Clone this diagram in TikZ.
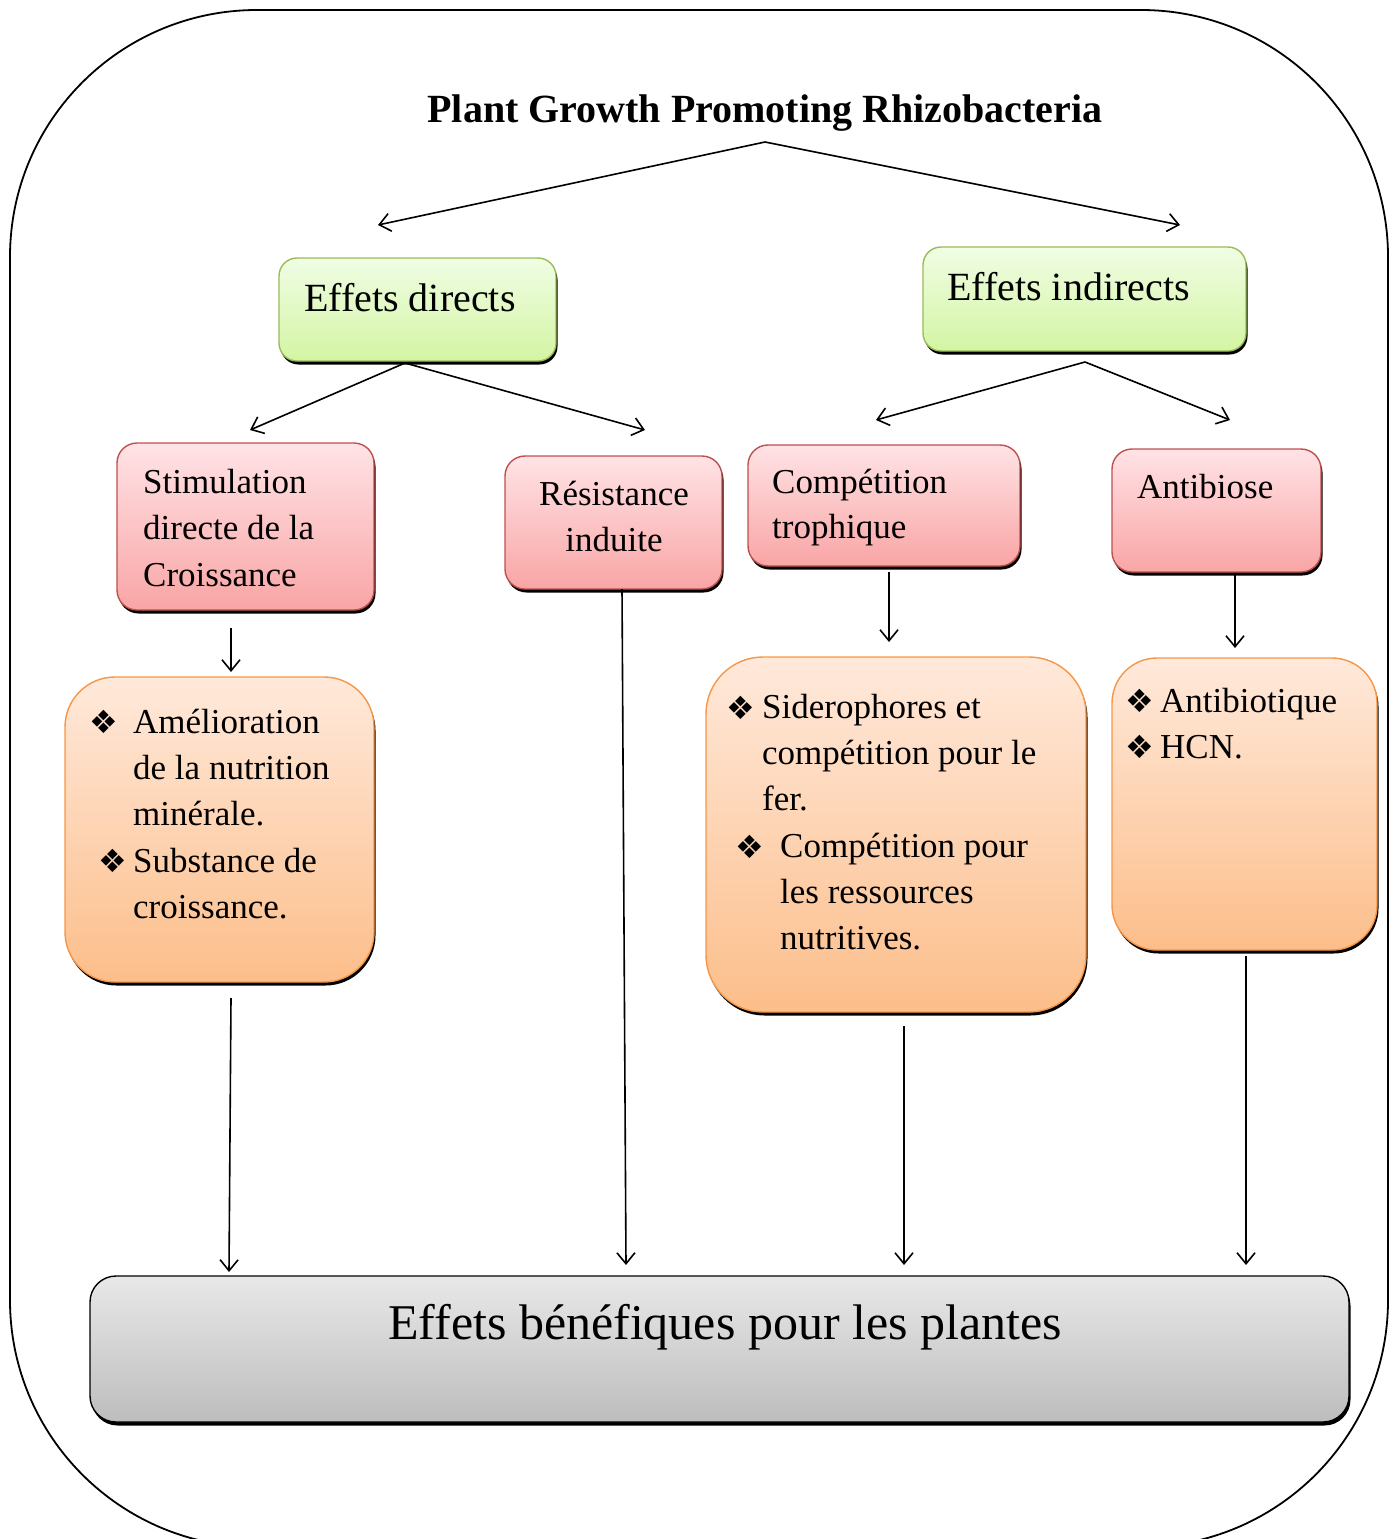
\documentclass[tikz,border=0pt]{standalone}
\usepackage{fontspec}
\setmainfont{Liberation Serif}
\newfontfamily\dejavu{DejaVu Sans}
\usetikzlibrary{arrows.meta}
\definecolor{gtop}{HTML}{F0FDE4}
\definecolor{gbot}{HTML}{D3F5A3}
\definecolor{gborder}{HTML}{9BBB59}
\definecolor{rtop}{HTML}{FFE3E6}
\definecolor{rbot}{HTML}{F9A5A5}
\definecolor{rborder}{HTML}{C0504D}
\definecolor{otop}{HTML}{FFE9DB}
\definecolor{obot}{HTML}{FCBE8A}
\definecolor{oborder}{HTML}{F79646}
\definecolor{ktop}{HTML}{E8E8E8}
\definecolor{kbot}{HTML}{BDBDBD}
\tikzset{
  shad/.style={preaction={fill=black, transform canvas={xshift=1.5pt,yshift=-3.5pt}}},
  boxbase/.style={shad, inner sep=0pt, outer sep=0pt, anchor=north west, line width=1.4pt},
  greenbox/.style={boxbase, draw=gborder, top color=gtop, bottom color=gbot, rounded corners=18pt},
  redbox/.style={boxbase, draw=rborder, top color=rtop, bottom color=rbot, rounded corners=20pt},
  orangebox/.style={boxbase, draw=oborder, top color=otop, bottom color=obot, rounded corners=50pt},
  graybox/.style={boxbase, draw=black, top color=ktop, bottom color=kbot, rounded corners=26pt},
  lbl/.style={inner sep=0pt, anchor=base west, font=\fontsize{35}{42}\selectfont},
  clbl/.style={inner sep=0pt, anchor=base, font=\fontsize{35}{42}\selectfont},
  bigl/.style={inner sep=0pt, anchor=base west, font=\fontsize{40}{48}\selectfont},
  bul/.style={inner sep=0pt, anchor=center, font=\dejavu\fontsize{32}{36}\selectfont},
  arr/.style={line width=1.6pt, -{Straight Barb[length=11pt,width=18pt,line width=1.6pt]}}
}
\begin{document}
\begin{tikzpicture}[x=1pt,y=-1pt]
\useasboundingbox (0,0) rectangle (1397,1539);
\begin{scope}
\clip (0,0) rectangle (1397,1539);
\draw[line width=1.8pt, rounded corners=247pt] (10,10) rectangle (1388,1547);
\end{scope}

% title
\node[inner sep=0pt, anchor=base, font=\bfseries\fontsize{40}{48}\selectfont] (title) at (765,122) {Plant Growth Promoting Rhizobacteria};

% boxes
\node[greenbox, minimum width=277pt, minimum height=103pt] (dir) at (279,258) {};
\node[greenbox, minimum width=323pt, minimum height=104pt] (ind) at (923,247) {};
\node[redbox, minimum width=257pt, minimum height=167pt] (stim) at (117,443) {};
\node[redbox, minimum width=217pt, minimum height=133pt] (res) at (505,456) {};
\node[redbox, minimum width=272pt, minimum height=121pt] (comp) at (748,445) {};
\node[redbox, minimum width=209pt, minimum height=123pt] (anti) at (1112,449) {};
\node[orangebox, minimum width=309pt, minimum height=305pt] (o1) at (65,677) {};
\node[orangebox, rounded corners=57pt, minimum width=380pt, minimum height=355pt] (o3) at (706,657) {};
\node[orangebox, rounded corners=45pt, minimum width=265pt, minimum height=292pt] (o4) at (1112,658) {};
\node[graybox, minimum width=1259pt, minimum height=146pt] (ben) at (90,1276) {};

% texts
\node[bigl] (tdir) at (304,311) {Effets directs};
\node[bigl] (tind) at (947,300) {Effets indirects};

\node[lbl] (s1) at (143,493) {Stimulation};
\node[lbl] (s2) at (143,539) {directe de la};
\node[lbl] (s3) at (143,586) {Croissance};

\node[clbl] (r1) at (614,505) {Résistance};
\node[clbl] (r2) at (614,551) {induite};

\node[lbl] (c1) at (772,493) {Compétition};
\node[lbl] (c2) at (772,538) {trophique};

\node[lbl] (a1) at (1137,498) {Antibiose};

\node[bul] (b11) at (104,722) {❖};
\node[lbl] (o11) at (133,733) {Amélioration};
\node[lbl] (o12) at (133,779) {de la nutrition};
\node[lbl] (o13) at (133,825) {minérale.};
\node[bul] (b12) at (113,861) {❖};
\node[lbl] (o14) at (133,872) {Substance de};
\node[lbl] (o15) at (133,918) {croissance.};

\node[bul] (b31) at (741,708) {❖};
\node[lbl] (o31) at (762,718) {Siderophores et};
\node[lbl] (o32) at (762,764) {compétition pour le};
\node[lbl] (o33) at (762,810) {fer.};
\node[bul] (b32) at (750,847) {❖};
\node[lbl] (o34) at (780,857) {Compétition pour};
\node[lbl] (o35) at (780,903) {les ressources};
\node[lbl] (o36) at (780,949) {nutritives.};

\node[bul] (b41) at (1140,701) {❖};
\node[lbl] (o41) at (1160,712) {Antibiotique};
\node[bul] (b42) at (1140,747) {❖};
\node[lbl] (o42) at (1160,758) {HCN.};

\node[inner sep=0pt, anchor=base, font=\fontsize{50}{60}\selectfont] (tben) at (725,1339) {Effets bénéfiques pour les plantes};

% connector coordinates
\coordinate (tsplit) at (765,142);
\coordinate (aL) at (378,225);
\coordinate (aR) at (1180,225);
\coordinate (dirB) at (405,363);
\coordinate (dL) at (250,430);
\coordinate (dR) at (645,430);
\coordinate (indB) at (1085,362);
\coordinate (iL) at (876,420);
\coordinate (iR) at (1230,420);
\coordinate (st1) at (231,628);
\coordinate (st2) at (231,672);
\coordinate (rs1) at (622,589);
\coordinate (rs2) at (626,1265);
\coordinate (cp1) at (889,572);
\coordinate (cp2) at (889,642);
\coordinate (an1) at (1235,573);
\coordinate (an2) at (1235,648);
\coordinate (ob1) at (231,998);
\coordinate (ob2) at (229,1272);
\coordinate (oc1) at (904,1026);
\coordinate (oc2) at (904,1265);
\coordinate (od1) at (1246,956);
\coordinate (od2) at (1246,1265);

\draw[arr] (tsplit) -- (aL);
\draw[arr] (tsplit) -- (aR);
\draw[arr] (dirB) -- (dL);
\draw[arr] (dirB) -- (dR);
\draw[arr] (indB) -- (iL);
\draw[arr] (indB) -- (iR);
\draw[arr] (st1) -- (st2);
\draw[arr] (rs1) -- (rs2);
\draw[arr] (cp1) -- (cp2);
\draw[arr] (an1) -- (an2);
\draw[arr] (ob1) -- (ob2);
\draw[arr] (oc1) -- (oc2);
\draw[arr] (od1) -- (od2);
\end{tikzpicture}
\end{document}
